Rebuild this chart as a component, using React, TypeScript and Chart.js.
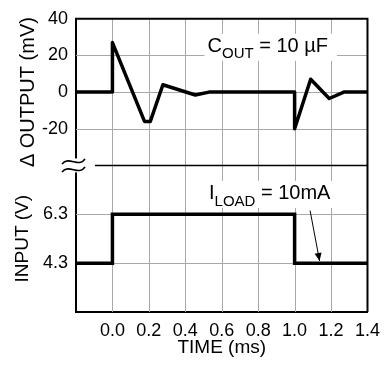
import React, { useEffect, useRef } from 'react';
import { Chart, registerables } from 'chart.js';

Chart.register(...registerables);

const FONT = "'Liberation Sans', Arial, sans-serif";

// Tick labels
const timeTicks = [0.0, 0.2, 0.4, 0.6, 0.8, 1.0, 1.2, 1.4];
const outputTicks = [-20, 0, 20, 40];
const inputTicks = [4.3, 6.3];

// Series: Δ OUTPUT (mV) vs time (ms)
const outputTime = [-0.2, 0.0, 0.0, 0.176, 0.208, 0.277, 0.455, 0.53, 1.0, 1.0, 1.088, 1.19, 1.27, 1.4];
const outputMv = [0, 0, 27, -16, -16, 4, -1.6, 0, 0, -20, 7, -3.5, 0, 0];

// Series: INPUT (V) vs time (ms)
const inputTime = [-0.2, 0.0, 0.0, 1.0, 1.0, 1.4];
const inputV = [4.3, 4.3, 6.3, 6.3, 4.3, 4.3];

// Axis ranges
const timeRange = [-0.2, 1.4];
const outputRange = [-40, 40];
const inputRange = [2.3, 8.3];

const annotations = {
  cout: { main: 'C', sub: 'OUT', rest: ' = 10 µF' },
  iload: { main: 'I', sub: 'LOAD', rest: ' = 10mA' },
};

const GRID = '#a8a8a8';

const gridPlugin = {
  id: 'manualGrid',
  beforeDatasetsDraw(chart: any) {
    const { ctx, chartArea } = chart;
    const { left, right, top, bottom } = chartArea;
    const x = chart.scales.x;
    const yOut = chart.scales.yOut;
    const yIn = chart.scales.yIn;
    ctx.save();
    ctx.fillStyle = GRID;
    for (const t of timeTicks) {
      const px = Math.round(x.getPixelForValue(t));
      if (px <= left + 1 || px >= right - 1) continue;
      ctx.fillRect(px, top, 1, bottom - top);
    }
    const hLines: number[] = [];
    for (const v of outputTicks) hLines.push(yOut.getPixelForValue(v));
    for (const v of inputTicks) hLines.push(yIn.getPixelForValue(v));
    for (const p of hLines) {
      const py = Math.round(p);
      if (!(py > top + 1 && py < bottom - 1)) continue;
      ctx.fillRect(left, py, right - left, 1);
    }
    ctx.restore();
  },
};

const overlay = {
  id: 'overlay',
  afterDraw(chart: any) {
    const { ctx, chartArea } = chart;
    const { left, right, top, bottom } = chartArea;
    const yOut = chart.scales.yOut;
    const x = chart.scales.x;
    const yIn = chart.scales.yIn;
    ctx.save();
    // frame top and right
    ctx.strokeStyle = '#000';
    ctx.lineWidth = 2;
    ctx.beginPath();
    ctx.moveTo(left - 1, top);
    ctx.lineTo(right, top);
    ctx.lineTo(right, bottom);
    ctx.stroke();

    // break line
    const yb = yOut.bottom;
    ctx.fillStyle = '#fff';
    ctx.fillRect(left - 16, yb - 7, 35, 14);
    ctx.beginPath();
    ctx.moveTo(left + 19, yb);
    ctx.lineTo(right, yb);
    ctx.lineWidth = 1.5;
    ctx.stroke();
    // ≈ symbol
    ctx.lineWidth = 1.6;
    for (const dy of [-4, 4]) {
      const cy = yb + dy;
      ctx.beginPath();
      ctx.moveTo(left - 14, cy + 2.5);
      ctx.bezierCurveTo(left - 7, cy - 6, left + 3, cy + 7, left + 9, cy - 2.5);
      ctx.stroke();
    }

    // text annotations
    const drawLabel = (a: any, x0: number, base: number, subDrop: number) => {
      ctx.font = `20px ${FONT}`;
      const w1 = ctx.measureText(a.main).width;
      ctx.font = `15px ${FONT}`;
      const w2 = ctx.measureText(a.sub).width;
      ctx.font = `20px ${FONT}`;
      const w3 = ctx.measureText(a.rest).width;
      ctx.fillStyle = '#fff';
      ctx.fillRect(x0 - 3, base - 18, w1 + w2 + w3 + 12, 27);
      ctx.fillStyle = '#000';
      ctx.textBaseline = 'alphabetic';
      ctx.textAlign = 'left';
      ctx.font = `20px ${FONT}`;
      ctx.fillText(a.main, x0, base);
      ctx.font = `15px ${FONT}`;
      ctx.fillText(a.sub, x0 + w1, base + subDrop);
      ctx.font = `20px ${FONT}`;
      ctx.fillText(a.rest, x0 + w1 + w2, base);
    };
    drawLabel(annotations.cout, x.getPixelForValue(0.522), yOut.getPixelForValue(22), 6);
    drawLabel(annotations.iload, x.getPixelForValue(0.53), yIn.getPixelForValue(6.93), 7);

    // arrow
    const ax0 = x.getPixelForValue(1.085), ay0 = yIn.getPixelForValue(6.45);
    const ax1 = x.getPixelForValue(1.137), ay1 = yIn.getPixelForValue(4.39);
    ctx.strokeStyle = '#000';
    ctx.fillStyle = '#000';
    ctx.lineWidth = 1;
    ctx.beginPath();
    ctx.moveTo(ax0, ay0);
    ctx.lineTo(ax1, ay1);
    ctx.stroke();
    const ang = Math.atan2(ay1 - ay0, ax1 - ax0);
    const hl = 8, hw = 3.5;
    ctx.beginPath();
    ctx.moveTo(ax1, ay1);
    ctx.lineTo(ax1 - hl * Math.cos(ang) + hw * Math.sin(ang), ay1 - hl * Math.sin(ang) - hw * Math.cos(ang));
    ctx.lineTo(ax1 - hl * Math.cos(ang) - hw * Math.sin(ang), ay1 - hl * Math.sin(ang) + hw * Math.cos(ang));
    ctx.closePath();
    ctx.fill();
    ctx.restore();
  },
};

const gridOpts = () => ({
  display: false,
  drawTicks: false,
});

export default function App() {
  const ref = useRef<HTMLCanvasElement | null>(null);
  useEffect(() => {
    if (!ref.current) return;
    const tickFont = { family: FONT, size: 18 };
    const titleFont = { family: FONT, size: 19 };
    const chart = new Chart(ref.current, {
      type: 'line',
      data: {
        datasets: [
          {
            data: outputTime.map((t, i) => ({ x: t, y: outputMv[i] })),
            xAxisID: 'x',
            yAxisID: 'yOut',
            borderColor: '#000',
            borderWidth: 3.5,
            pointRadius: 0,
            tension: 0,
            borderJoinStyle: 'round',
          },
          {
            data: inputTime.map((t, i) => ({ x: t, y: inputV[i] })),
            xAxisID: 'x',
            yAxisID: 'yIn',
            borderColor: '#000',
            borderWidth: 3.5,
            pointRadius: 0,
            tension: 0,
            borderJoinStyle: 'miter',
          },
        ],
      },
      options: {
        animation: false,
        responsive: false,
        events: [],
        layout: { padding: { top: 14, right: 14, left: 0, bottom: 0 } },
        plugins: { legend: { display: false }, tooltip: { enabled: false } },
        scales: {
          x: {
            type: 'linear',
            min: timeRange[0],
            max: timeRange[1],
            afterBuildTicks: (s: any) => {
              s.ticks = [timeRange[0], ...timeTicks].map((v) => ({ value: v }));
            },
            afterFit: (s: any) => {
              s.height = 53;
            },
            ticks: {
              autoSkip: false,
              maxRotation: 0,
              font: tickFont,
              color: '#000',
              padding: 8,
              callback: (v: any) => (timeTicks.includes(v) ? Number(v).toFixed(1) : ''),
            },
            grid: gridOpts(),
            border: { display: true, color: '#000', width: 2 },
            title: { display: true, text: 'TIME (ms)', font: titleFont, color: '#000', padding: { top: 0, bottom: 6 } },
          },
          yIn: {
            type: 'linear',
            position: 'left',
            stack: 'v',
            stackWeight: 1,
            min: inputRange[0],
            max: inputRange[1],
            afterBuildTicks: (s: any) => {
              s.ticks = [inputRange[0], ...inputTicks, inputRange[1]].map((v) => ({ value: v }));
            },
            afterFit: (s: any) => {
              s.width = 76;
            },
            ticks: {
              autoSkip: false,
              font: tickFont,
              color: '#000',
              padding: 8,
              callback: (v: any) => (inputTicks.includes(v) ? Number(v).toFixed(1) : ''),
            },
            grid: gridOpts(),
            border: { display: true, color: '#000', width: 2 },
            title: { display: true, text: 'INPUT (V)', font: titleFont, color: '#000', padding: { top: 11, bottom: 0 } },
          },
          yOut: {
            type: 'linear',
            position: 'left',
            stack: 'v',
            stackWeight: 1,
            min: outputRange[0],
            max: outputRange[1],
            afterBuildTicks: (s: any) => {
              s.ticks = [outputRange[0], ...outputTicks].map((v) => ({ value: v }));
            },
            afterFit: (s: any) => {
              s.width = 76;
            },
            ticks: {
              autoSkip: false,
              font: tickFont,
              color: '#000',
              padding: 8,
              callback: (v: any) => (outputTicks.includes(v) ? String(v) : ''),
            },
            grid: gridOpts(),
            border: { display: true, color: '#000', width: 2 },
            title: { display: true, text: 'Δ OUTPUT (mV)', font: { family: FONT, size: 20 }, color: '#000', padding: { top: 16, bottom: 0 } },
          },
        },
      },
      plugins: [gridPlugin, overlay],
    } as any);
    return () => chart.destroy();
  }, []);
  return (
    <div style={{ position: 'absolute', left: 0, top: 0, width: 388, height: 365, background: '#fff' }}>
      <canvas ref={ref} width={388} height={365} />
    </div>
  );
}
